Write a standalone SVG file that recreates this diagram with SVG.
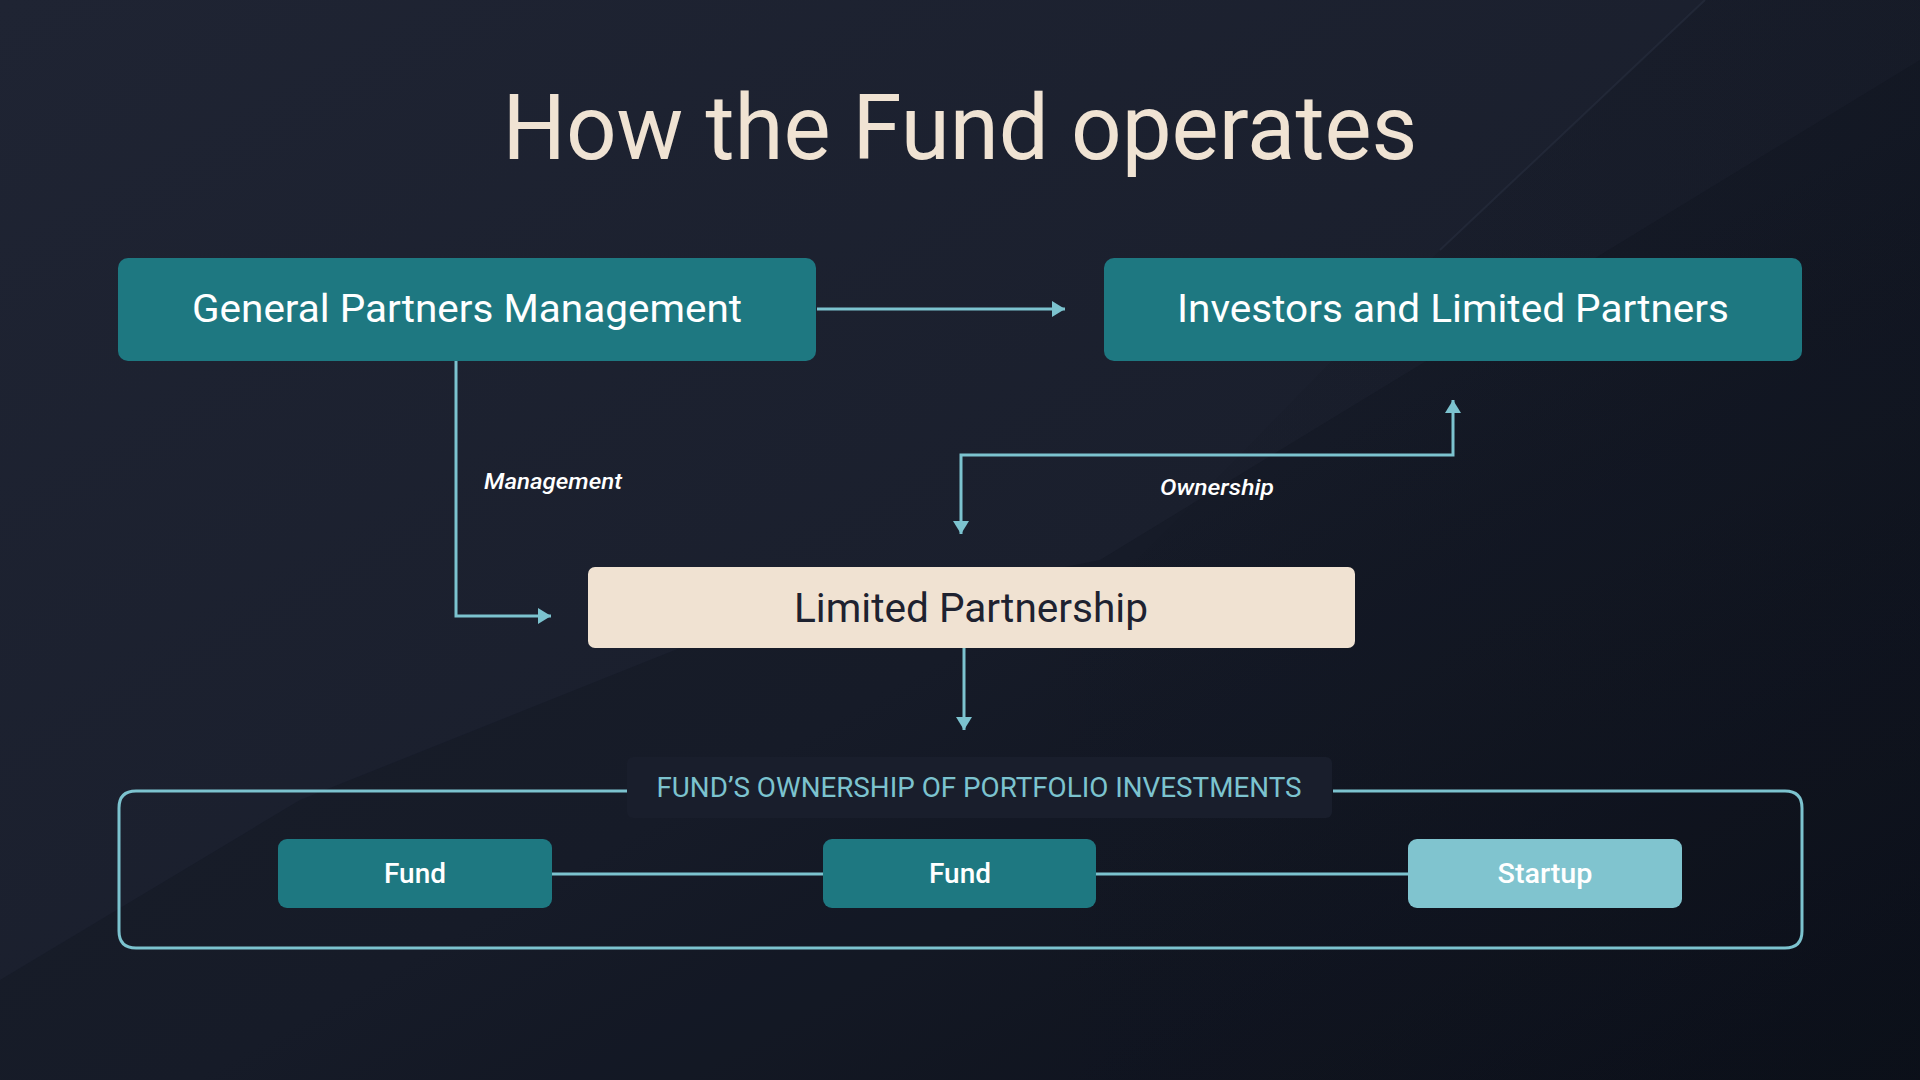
<svg xmlns="http://www.w3.org/2000/svg" width="1920" height="1080" viewBox="0 0 1920 1080">
  <defs>
    <linearGradient id="bg" x1="0" y1="0" x2="1" y2="1">
      <stop offset="0" stop-color="#1F2433"/>
      <stop offset="0.55" stop-color="#1A1F2D"/>
      <stop offset="1" stop-color="#0D111B"/>
    </linearGradient>
    <linearGradient id="dark" x1="0" y1="0" x2="1" y2="0">
      <stop offset="0" stop-color="#0B0F18" stop-opacity="0"/>
      <stop offset="1" stop-color="#0B0F18" stop-opacity="0.45"/>
    </linearGradient>
    <marker id="arrow" viewBox="0 0 13 16" refX="13" refY="8" markerWidth="13" markerHeight="16" markerUnits="userSpaceOnUse" orient="auto-start-reverse">
      <path d="M0,0 L13,8 L0,16 Z" fill="#7CC3CF"/>
    </marker>
    <style>
      .teal { fill: #1E7881; }
      .conn { fill: none; stroke: #7CC3CF; stroke-width: 3; }
      .big { font-family: Roboto, "Liberation Sans", sans-serif; font-size: 38px; font-weight: 400; fill: #FFFFFF; text-anchor: middle; }
      .lbl { font-family: Roboto, "Liberation Sans", sans-serif; font-size: 22px; font-weight: 500; font-style: italic; fill: #FFFFFF; }
      .small { font-family: Roboto, "Liberation Sans", sans-serif; font-size: 27px; font-weight: 500; fill: #FFFFFF; text-anchor: middle; }
    </style>
  </defs>

  <rect width="1920" height="1080" fill="url(#bg)"/>
  <polygon points="0,980 300,800 700,640 1100,560 1920,60 1920,1080 0,1080" fill="#0B0F18" opacity="0.22"/>
  <polygon points="1705,0 1920,0 1920,1080 1000,1080 1000,700 1440,250" fill="url(#dark)" opacity="0.6"/>
  <line x1="1705" y1="0" x2="1440" y2="250" stroke="#2A3142" stroke-width="2" opacity="0.5"/>

  <text x="960" y="159" font-family="Roboto, 'Liberation Sans', sans-serif" font-size="90" fill="#F0E3D3" text-anchor="middle" textLength="915" lengthAdjust="spacingAndGlyphs">How the Fund operates</text>

  <g id="connectors">
    <path class="conn" d="M817,309 L1065,309" marker-end="url(#arrow)"/>
    <path class="conn" d="M456,361 L456,616 L551,616" marker-end="url(#arrow)"/>
    <path class="conn" d="M1453,400 L1453,455 L961,455 L961,534" marker-start="url(#arrow)" marker-end="url(#arrow)"/>
    <path class="conn" d="M964,648 L964,730" marker-end="url(#arrow)"/>
    <path class="conn" d="M552,874 L823,874"/>
    <path class="conn" d="M1096,874 L1408,874"/>
    <text class="lbl" x="484" y="489" textLength="138" lengthAdjust="spacingAndGlyphs">Management</text>
    <text class="lbl" x="1160" y="495" textLength="114" lengthAdjust="spacingAndGlyphs">Ownership</text>
  </g>

  <g id="gp">
    <rect class="teal" x="118" y="258" width="698" height="103" rx="10"/>
    <text class="big" x="467" y="322" textLength="550" lengthAdjust="spacingAndGlyphs">General Partners Management</text>
  </g>

  <g id="investors">
    <rect class="teal" x="1104" y="258" width="698" height="103" rx="10"/>
    <text class="big" x="1453" y="322" textLength="552" lengthAdjust="spacingAndGlyphs">Investors and Limited Partners</text>
  </g>

  <g id="lp">
    <rect x="588" y="567" width="767" height="81" rx="7" fill="#F0E2D2"/>
    <text x="971" y="622" font-family="Roboto, 'Liberation Sans', sans-serif" font-size="40" font-weight="400" fill="#1E2230" text-anchor="middle" textLength="354" lengthAdjust="spacingAndGlyphs">Limited Partnership</text>
  </g>

  <g id="portfolio">
    <path d="M627,791 L136,791 Q119,791 119,808 L119,931 Q119,948 136,948 L1785,948 Q1802,948 1802,931 L1802,808 Q1802,791 1785,791 L1333,791" fill="none" stroke="#7CC3CF" stroke-width="3"/>
    <rect x="627" y="757" width="705" height="61" rx="6" fill="#191E2C"/>
    <text x="979" y="797" font-family="Roboto, 'Liberation Sans', sans-serif" font-size="27" fill="#7CC3CF" text-anchor="middle" textLength="645" lengthAdjust="spacingAndGlyphs">FUND’S OWNERSHIP OF PORTFOLIO INVESTMENTS</text>
  </g>

  <g id="fund1">
    <rect class="teal" x="278" y="839" width="274" height="69" rx="9"/>
    <text class="small" x="415" y="883" textLength="62" lengthAdjust="spacingAndGlyphs">Fund</text>
  </g>

  <g id="fund2">
    <rect class="teal" x="823" y="839" width="273" height="69" rx="9"/>
    <text class="small" x="960" y="883" textLength="62" lengthAdjust="spacingAndGlyphs">Fund</text>
  </g>

  <g id="startup">
    <rect x="1408" y="839" width="274" height="69" rx="9" fill="#80C4CF"/>
    <text class="small" x="1545" y="883" textLength="95" lengthAdjust="spacingAndGlyphs">Startup</text>
  </g>
</svg>
